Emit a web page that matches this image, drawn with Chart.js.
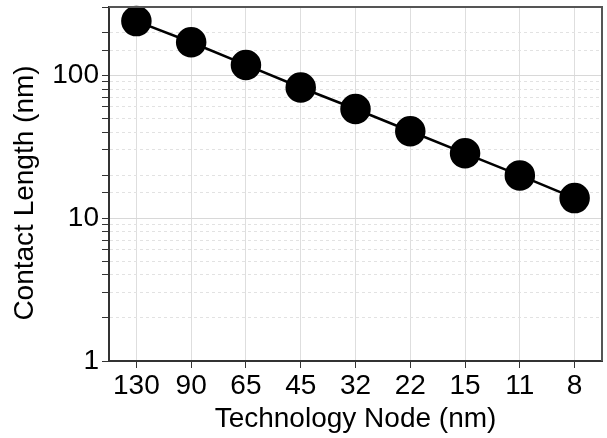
<!DOCTYPE html>
<html>
<head>
<meta charset="utf-8">
<script src="https://cdn.jsdelivr.net/npm/chart.js@4/dist/chart.umd.min.js"></script>
<style>
  html, body { margin: 0; padding: 0; background: #fff; }
  #wrap { width: 607px; height: 438px; }
</style>
</head>
<body>
<div id="wrap"><canvas id="grafico"></canvas></div>
<script>
// dados
const nodes = ['130', '90', '65', '45', '32', '22', '15', '11', '8'];
const contactLength = [239, 170, 118, 82, 58, 40.5, 28.4, 19.9, 13.8];
const yMin = 1;
const yMax = 300;
const tituloY = 'Contact Length (nm)';
const tituloX = 'Technology Node (nm)';

const fonte = "'Liberation Sans', Arial, sans-serif";

function isMajor(v) {
    const l = Math.log10(v);
    return Math.abs(l - Math.round(l)) < 1e-9;
}

// borda de cima e da direita + título do eixo y (um pouco abaixo do centro, como no original)
const molduraPlugin = {
    id: 'moldura',
    afterDraw(chart) {
        const { ctx, chartArea } = chart;
        ctx.save();
        ctx.strokeStyle = '#555';
        ctx.lineWidth = 2;
        ctx.beginPath();
        ctx.moveTo(chartArea.left, chartArea.top);
        ctx.lineTo(chartArea.right, chartArea.top);
        ctx.lineTo(chartArea.right, chartArea.bottom);
        ctx.stroke();

        const meio = (chartArea.top + chartArea.bottom) / 2 + 9;
        ctx.translate(25, meio);
        ctx.rotate(-Math.PI / 2);
        ctx.fillStyle = '#000';
        ctx.font = `28px ${fonte}`;
        ctx.textAlign = 'center';
        ctx.textBaseline = 'middle';
        ctx.fillText(tituloY, 0, 0);
        ctx.restore();
    }
};

const ctx = document.getElementById('grafico').getContext('2d');
new Chart(ctx, {
    type: 'line',
    data: {
        labels: nodes,
        datasets: [{
            data: contactLength,
            borderColor: '#000',
            backgroundColor: '#000',
            borderWidth: 2.5,
            pointRadius: 14,
            pointHoverRadius: 14,
            pointBackgroundColor: '#000',
            pointBorderColor: '#000',
            tension: 0,
            clip: false
        }]
    },
    options: {
        responsive: true,
        maintainAspectRatio: false,
        animation: false,
        layout: {
            autoPadding: false,
            padding: { left: 0, top: 7, right: 5, bottom: 0 }
        },
        plugins: {
            legend: { display: false },
            tooltip: { enabled: false }
        },
        scales: {
            x: {
                type: 'category',
                offset: true,
                afterFit: (scale) => {
                    scale.height = 77;
                    scale.paddingLeft = 0;
                    scale.paddingRight = 0;
                },
                grid: {
                    color: '#dedede',
                    lineWidth: 1,
                    tickLength: 7,
                    tickColor: '#333'
                },
                border: { color: '#333', width: 2 },
                ticks: {
                    color: '#000',
                    padding: 1,
                    font: { family: fonte, size: 28 }
                },
                title: {
                    display: true,
                    text: tituloX,
                    color: '#000',
                    padding: { top: 0, bottom: 5 },
                    font: { family: fonte, size: 28, lineHeight: 1 }
                }
            },
            y: {
                type: 'logarithmic',
                min: yMin,
                max: yMax,
                afterFit: (scale) => {
                    scale.width = 109;
                    scale.paddingTop = 0;
                    scale.paddingBottom = 0;
                },
                grid: {
                    color: (c) => (c.tick && isMajor(c.tick.value)) ? '#d8d8d8' : '#e2e2e2',
                    lineWidth: 1,
                    tickLength: 7,
                    tickColor: '#333'
                },
                border: {
                    color: '#333',
                    width: 2,
                    dash: (c) => (c.tick && !isMajor(c.tick.value)) ? [3, 3] : []
                },
                ticks: {
                    autoSkip: false,
                    color: '#000',
                    padding: 3,
                    font: { family: fonte, size: 28 },
                    callback: (v) => isMajor(v) ? String(Math.round(v)) : ''
                },
                title: { display: false }
            }
        }
    },
    plugins: [molduraPlugin]
});
</script>
</body>
</html>
